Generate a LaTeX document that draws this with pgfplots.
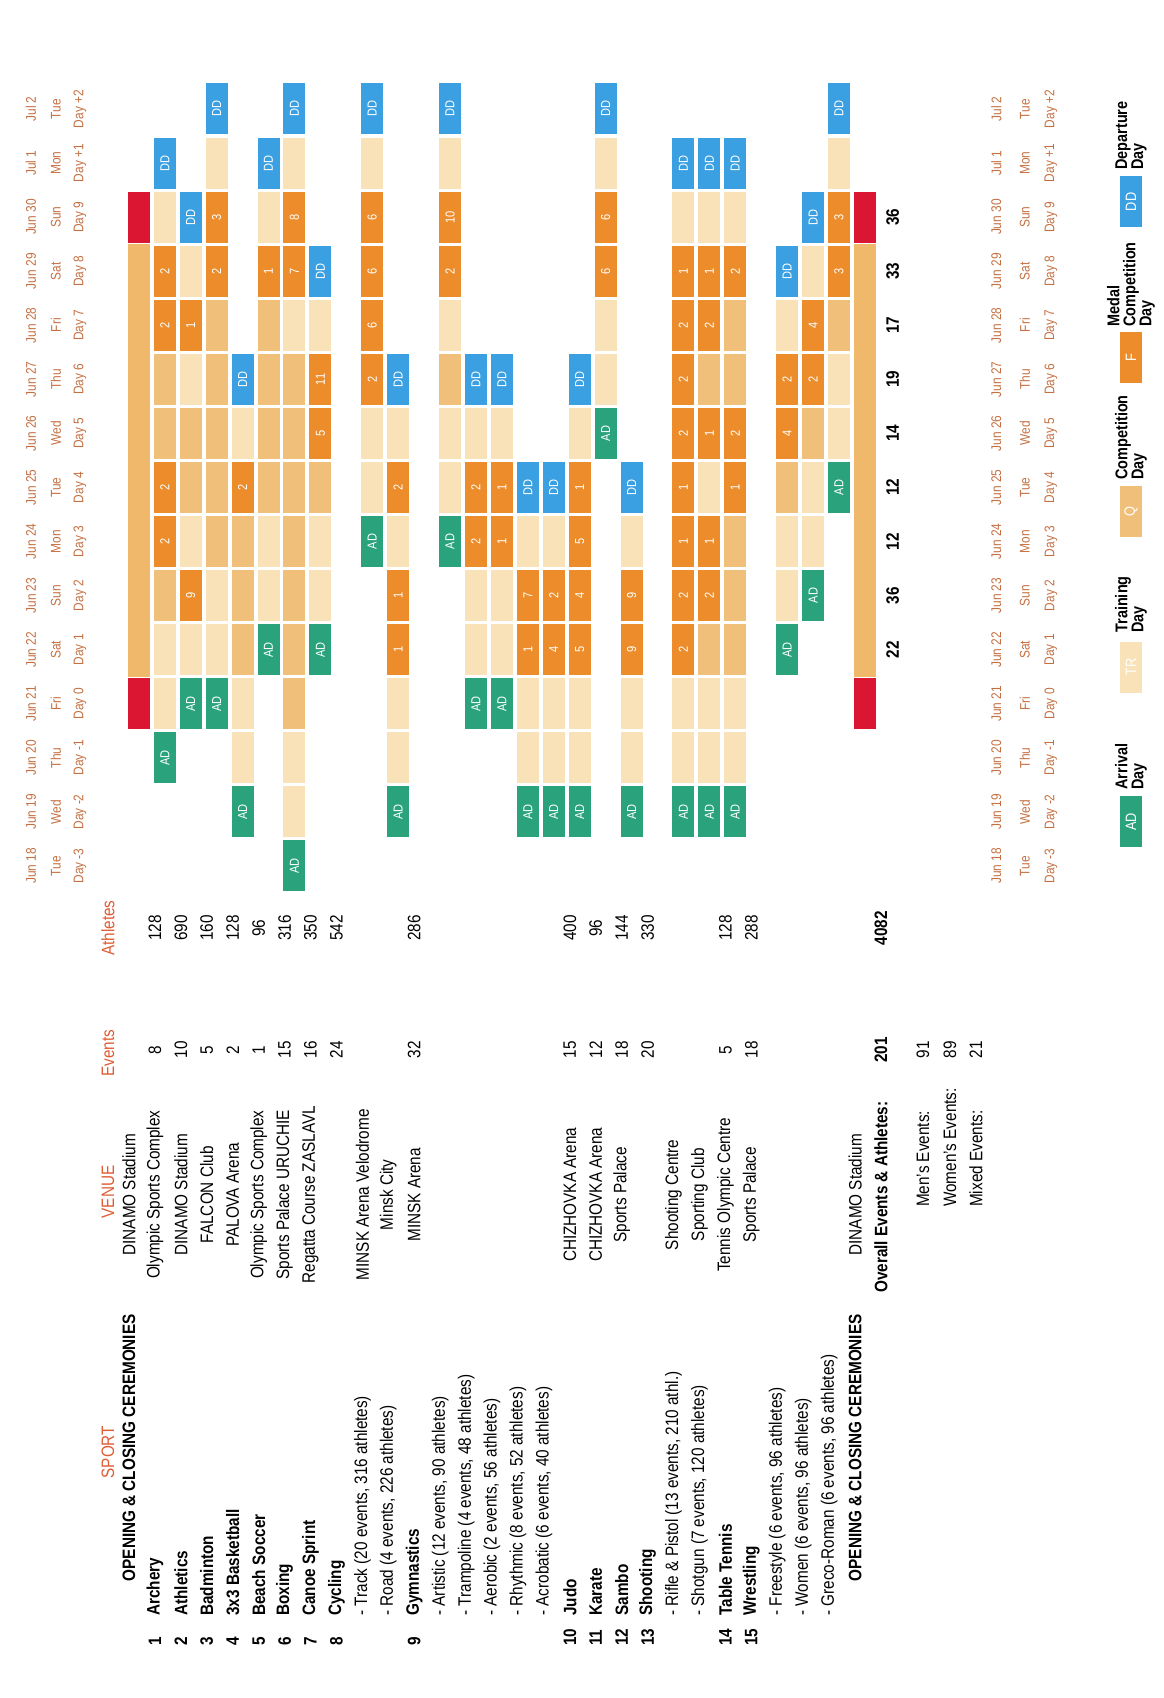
\documentclass[border=0pt]{standalone}
\usepackage{pgfplots}
\pgfplotsset{compat=1.18}
\usepackage{pgfplotstable}
\usepackage{fontspec}
\setmainfont{Liberation Sans}[FakeStretch=0.85]

\definecolor{cAD}{RGB}{42,163,124}
\definecolor{cDD}{RGB}{58,160,225}
\definecolor{cF}{RGB}{236,140,42}
\definecolor{cQ}{RGB}{240,192,122}
\definecolor{cTR}{RGB}{249,225,184}
\definecolor{cRed}{RGB}{218,22,50}
\definecolor{cBar}{RGB}{239,184,106}
\definecolor{cHead}{RGB}{222,92,52}
\definecolor{cDate}{RGB}{196,112,66}

\pgfdeclareplotmark{cell}{\pgfpathrectangle{\pgfqpoint{-5.5pt}{-12.75pt}}{\pgfqpoint{11pt}{25.5pt}}\pgfusepathqfill}
\pgfdeclareplotmark{barcell}{\pgfpathrectangle{\pgfqpoint{-5.5pt}{-13.6pt}}{\pgfqpoint{11pt}{27.2pt}}\pgfusepathqfill}

% rows: 0 ceremonies, 1 Archery ... 28 ceremonies ; days: 0 = Jun 18 ... 14 = Jul 2
\pgfplotstableread{
x y lab
1 2 AD
2 3 AD
3 3 AD
4 1 AD
5 4 AD
6 0 AD
7 4 AD
9 6 AD
10 1 AD
12 6 AD
13 3 AD
14 3 AD
15 1 AD
16 1 AD
17 1 AD
18 8 AD
19 1 AD
21 1 AD
22 1 AD
23 1 AD
25 4 AD
26 5 AD
27 7 AD
}\tabAD

\pgfplotstableread{
x y lab
1 13 DD
2 12 DD
3 14 DD
4 9 DD
5 13 DD
6 14 DD
7 11 DD
9 14 DD
10 9 DD
12 14 DD
13 9 DD
14 9 DD
15 7 DD
16 7 DD
17 9 DD
18 14 DD
19 7 DD
21 13 DD
22 13 DD
23 13 DD
25 11 DD
26 12 DD
27 14 DD
}\tabDD

\pgfplotstableread{
x y lab
1 6 2
1 7 2
1 10 2
1 11 2
2 5 9
2 10 1
3 11 2
3 12 3
4 7 2
5 11 1
6 11 7
6 12 8
7 8 5
7 9 11
9 9 2
9 10 6
9 11 6
9 12 6
10 4 1
10 5 1
10 7 2
12 11 2
12 12 10
13 6 2
13 7 2
14 6 1
14 7 1
15 4 1
15 5 7
16 4 4
16 5 2
17 4 5
17 5 4
17 6 5
17 7 1
18 11 6
18 12 6
19 4 9
19 5 9
21 4 2
21 5 2
21 6 1
21 7 1
21 8 2
21 9 2
21 10 2
21 11 1
22 5 2
22 6 1
22 8 1
22 10 2
22 11 1
23 7 1
23 8 2
23 11 2
25 8 4
25 9 2
26 9 2
26 10 4
27 11 3
27 12 3
}\tabF

\pgfplotstableread{
x y
1 5
1 8
1 9
2 7
2 8
3 6
3 7
3 8
3 9
3 10
4 4
4 5
4 6
5 7
5 8
5 9
5 10
6 3
6 4
6 5
6 6
6 7
6 8
6 9
7 7
12 9
22 4
22 9
23 4
23 5
23 6
23 9
23 10
25 7
26 8
27 10
}\tabQ

\pgfplotstableread{
x y
1 3
1 4
1 12
2 4
2 6
2 9
2 11
3 4
3 5
3 13
4 2
4 3
4 8
5 5
5 6
5 12
6 1
6 2
6 10
6 13
7 5
7 6
7 10
9 7
9 8
9 13
10 2
10 3
10 6
10 8
12 7
12 8
12 10
12 13
13 4
13 5
13 8
14 4
14 5
14 8
15 2
15 3
15 6
16 2
16 3
16 6
17 2
17 3
17 8
18 9
18 10
18 13
19 2
19 3
19 6
21 2
21 3
21 12
22 2
22 3
22 7
22 12
23 2
23 3
23 12
25 5
25 6
25 10
26 6
26 7
26 11
27 8
27 9
27 13
}\tabTR

\pgfplotstableread{
x y
0 3
0 12
28 3
28 12
}\tabRed

\pgfplotstableread{
x y
0 4
0 5
0 6
0 7
0 8
0 9
0 10
0 11
28 4
28 5
28 6
28 7
28 8
28 9
28 10
28 11
}\tabBar

\pgfplotstableread{
y lab
4 22
5 36
6 12
7 12
8 14
9 19
10 17
11 33
12 36
}\tabTot

\pgfplotstableread{
x lab
1 8
2 10
3 5
4 2
5 1
6 15
7 16
8 24
11 32
17 15
18 12
19 18
20 20
23 5
24 18
30.62 91
31.66 89
32.66 21
}\tabEv

\pgfplotstableread{
x lab
1 128
2 690
3 160
4 128
5 96
6 316
7 350
8 542
11 286
17 400
18 96
19 144
20 330
23 128
24 288
}\tabAth

\pgfplotstableread[col sep=comma]{
d,date,wd,dy
0,Jun 18,Tue,Day -3
1,Jun 19,Wed,Day -2
2,Jun 20,Thu,Day -1
3,Jun 21,Fri,Day 0
4,Jun 22,Sat,Day 1
5,Jun 23,Sun,Day 2
6,Jun 24,Mon,Day 3
7,Jun 25,Tue,Day 4
8,Jun 26,Wed,Day 5
9,Jun 27,Thu,Day 6
10,Jun 28,Fri,Day 7
11,Jun 29,Sat,Day 8
12,Jun 30,Sun,Day 9
13,Jul 1,Mon,Day +1
14,Jul 2,Tue,Day +2
}\tabDates

\pgfplotsset{
  cellplot/.style={only marks, mark=cell, color=#1, mark options={fill=#1, draw=none}},
  lbl/.style={nodes near coords, point meta=explicit symbolic,
    nodes near coords align={center},
    every node near coord/.append style={rotate=90, text=#1, inner sep=0pt,
      font=\fontsize{6.5}{7}\selectfont}},
  lgl/.style={nodes near coords, point meta=explicit symbolic,
    nodes near coords align={center},
    every node near coord/.append style={rotate=90, text=#1, inner sep=0pt,
      font=\fontsize{7.5}{8}\selectfont}},
  txtplot/.style={draw=none, mark=none, nodes near coords, point meta=explicit symbolic,
    nodes near coords align={center},
    every node near coord/.append style={rotate=90, inner sep=0pt, #1}},
}

\tikzset{
  rt/.style={rotate=90, inner sep=0pt, font=\fontsize{9}{10}\selectfont},
  rtb/.style={rotate=90, inner sep=0pt, font=\bfseries\fontsize{9}{10}\selectfont},
  hd/.style={rotate=90, inner sep=0pt, font=\fontsize{9}{10}\selectfont, text=cHead},
  lg/.style={rotate=90, inner sep=0pt, anchor=west, align=left, font=\bfseries\fontsize{8.5}{8}\selectfont},
}

\begin{document}
\begin{tikzpicture}
\begin{axis}[
  x=12.965pt, y=27.035pt,
  xmin=-4.975, xmax=39.877, ymin=-15.387, ymax=16.016,
  hide axis, clip=false,
]
\path (rel axis cs:0,0) rectangle (rel axis cs:1,1);

% ---- schedule grid ----
\addplot[only marks, mark=barcell, color=cBar, mark options={fill=cBar, draw=none}]
  table[x expr=\thisrow{x}+0.38, y=y] {\tabBar};
\addplot[cellplot=cRed] table[x expr=\thisrow{x}+0.38, y=y] {\tabRed};
\addplot[cellplot=cTR] table[x expr=\thisrow{x}+0.38, y=y] {\tabTR};
\addplot[cellplot=cQ] table[x expr=\thisrow{x}+0.38, y=y] {\tabQ};
\addplot[cellplot=cF, lbl=white] table[x expr=\thisrow{x}+0.38, y=y, meta=lab] {\tabF};
\addplot[cellplot=cAD, lbl=white] table[x expr=\thisrow{x}+0.38, y=y, meta=lab] {\tabAD};
\addplot[cellplot=cDD, lbl=white] table[x expr=\thisrow{x}+0.38, y=y, meta=lab] {\tabDD};

% ---- daily medal totals ----
\addplot[txtplot={font=\bfseries\fontsize{9}{10}\selectfont}]
  table[x expr=29.45, y=y, meta=lab] {\tabTot};

% ---- date headers (top and bottom) ----
\addplot[txtplot={text=cDate, font=\fontsize{7}{8}\selectfont}] table[x expr=-3.78, y=d, meta=date] {\tabDates};
\addplot[txtplot={text=cDate, font=\fontsize{7}{8}\selectfont}] table[x expr=-2.82, y=d, meta=wd] {\tabDates};
\addplot[txtplot={text=cDate, font=\fontsize{7}{8}\selectfont}] table[x expr=-1.89, y=d, meta=dy] {\tabDates};
\addplot[txtplot={text=cDate, font=\fontsize{7}{8}\selectfont}] table[x expr=33.45, y=d, meta=date] {\tabDates};
\addplot[txtplot={text=cDate, font=\fontsize{7}{8}\selectfont}] table[x expr=34.55, y=d, meta=wd] {\tabDates};
\addplot[txtplot={text=cDate, font=\fontsize{7}{8}\selectfont}] table[x expr=35.55, y=d, meta=dy] {\tabDates};

% ---- events / athletes columns ----
\addplot[txtplot={font=\fontsize{9}{10}\selectfont}] table[x=x, y expr=-3.40, meta=lab] {\tabEv};
\addplot[txtplot={font=\fontsize{9}{10}\selectfont}] table[x=x, y expr=-1.15, meta=lab] {\tabAth};

% ---- column headers ----
\node[hd] at (axis cs:-0.81,-10.84) {SPORT};
\node[hd] at (axis cs:-0.81,-6.03) {VENUE};
\node[hd] at (axis cs:-0.81,-3.46) {Events};
\node[hd] at (axis cs:-0.81,-1.15) {Athletes};

% ---- sport numbers ----
\node[rtb, anchor=west] at (axis cs:1,-14.43) {1};
\node[rtb, anchor=west] at (axis cs:2,-14.43) {2};
\node[rtb, anchor=west] at (axis cs:3,-14.43) {3};
\node[rtb, anchor=west] at (axis cs:4,-14.43) {4};
\node[rtb, anchor=west] at (axis cs:5,-14.43) {5};
\node[rtb, anchor=west] at (axis cs:6,-14.43) {6};
\node[rtb, anchor=west] at (axis cs:7,-14.43) {7};
\node[rtb, anchor=west] at (axis cs:8,-14.43) {8};
\node[rtb, anchor=west] at (axis cs:11,-14.43) {9};
\node[rtb, anchor=west] at (axis cs:17,-14.43) {10};
\node[rtb, anchor=west] at (axis cs:18,-14.43) {11};
\node[rtb, anchor=west] at (axis cs:19,-14.43) {12};
\node[rtb, anchor=west] at (axis cs:20,-14.43) {13};
\node[rtb, anchor=west] at (axis cs:23,-14.43) {14};
\node[rtb, anchor=west] at (axis cs:24,-14.43) {15};

% ---- sport names ----
\node[rtb] at (axis cs:0,-10.76) {OPENING \& CLOSING CEREMONIES};
\node[rtb, anchor=west] at (axis cs:1,-13.87) {Archery};
\node[rtb, anchor=west] at (axis cs:2,-13.87) {Athletics};
\node[rtb, anchor=west] at (axis cs:3,-13.87) {Badminton};
\node[rtb, anchor=west] at (axis cs:4,-13.87) {3x3 Basketball};
\node[rtb, anchor=west] at (axis cs:5,-13.87) {Beach Soccer};
\node[rtb, anchor=west] at (axis cs:6,-13.87) {Boxing};
\node[rtb, anchor=west] at (axis cs:7,-13.87) {Canoe Sprint};
\node[rtb, anchor=west] at (axis cs:8,-13.87) {Cycling};
\node[rt, anchor=west] at (axis cs:9,-13.87) {- Track (20 events, 316 athletes)};
\node[rt, anchor=west] at (axis cs:10,-13.87) {- Road (4 events, 226 athletes)};
\node[rtb, anchor=west] at (axis cs:11,-13.87) {Gymnastics};
\node[rt, anchor=west] at (axis cs:12,-13.87) {- Artistic (12 events, 90 athletes)};
\node[rt, anchor=west] at (axis cs:13,-13.87) {- Trampoline (4 events, 48 athletes)};
\node[rt, anchor=west] at (axis cs:14,-13.87) {- Aerobic (2 events, 56 athletes)};
\node[rt, anchor=west] at (axis cs:15,-13.87) {- Rhythmic (8 events, 52 athletes)};
\node[rt, anchor=west] at (axis cs:16,-13.87) {- Acrobatic (6 events, 40 athletes)};
\node[rtb, anchor=west] at (axis cs:17,-13.87) {Judo};
\node[rtb, anchor=west] at (axis cs:18,-13.87) {Karate};
\node[rtb, anchor=west] at (axis cs:19,-13.87) {Sambo};
\node[rtb, anchor=west] at (axis cs:20,-13.87) {Shooting};
\node[rt, anchor=west] at (axis cs:21,-13.87) {- Rifle \& Pistol (13 events, 210 athl.)};
\node[rt, anchor=west] at (axis cs:22,-13.87) {- Shotgun (7 events, 120 athletes)};
\node[rtb, anchor=west] at (axis cs:23,-13.87) {Table Tennis};
\node[rtb, anchor=west] at (axis cs:24,-13.87) {Wrestling};
\node[rt, anchor=west] at (axis cs:25,-13.87) {- Freestyle (6 events, 96 athletes)};
\node[rt, anchor=west] at (axis cs:26,-13.87) {- Women (6 events, 96 athletes)};
\node[rt, anchor=west] at (axis cs:27,-13.87) {- Greco-Roman (6 events, 96 athletes)};
\node[rtb] at (axis cs:28,-10.76) {OPENING \& CLOSING CEREMONIES};

% ---- venues ----
\node[rt] at (axis cs:0,-6.08) {DINAMO Stadium};
\node[rt] at (axis cs:1,-6.08) {Olympic Sports Complex};
\node[rt] at (axis cs:2,-6.08) {DINAMO Stadium};
\node[rt] at (axis cs:3,-6.08) {FALCON Club};
\node[rt] at (axis cs:4,-6.08) {PALOVA Arena};
\node[rt] at (axis cs:5,-6.08) {Olympic Sports Complex};
\node[rt] at (axis cs:6,-6.08) {Sports Palace URUCHIE};
\node[rt] at (axis cs:7,-6.08) {Regatta Course ZASLAVL};
\node[rt] at (axis cs:9,-6.08) {MINSK Arena Velodrome};
\node[rt] at (axis cs:10,-6.08) {Minsk City};
\node[rt] at (axis cs:11,-6.08) {MINSK Arena};
\node[rt] at (axis cs:17,-6.08) {CHIZHOVKA Arena};
\node[rt] at (axis cs:18,-6.08) {CHIZHOVKA Arena};
\node[rt] at (axis cs:19,-6.08) {Sports Palace};
\node[rt] at (axis cs:21,-6.08) {Shooting Centre};
\node[rt] at (axis cs:22,-6.08) {Sporting Club};
\node[rt] at (axis cs:23,-6.08) {Tennis Olympic Centre};
\node[rt] at (axis cs:24,-6.08) {Sports Palace};
\node[rt] at (axis cs:28,-6.08) {DINAMO Stadium};

% ---- totals ----
\node[rtb, anchor=west] at (axis cs:29,-7.90) {Overall Events \& Athletes:};
\node[rtb] at (axis cs:29,-3.40) {201};
\node[rtb] at (axis cs:29,-1.15) {4082};
\node[rt, anchor=west] at (axis cs:30.62,-6.31) {Men's Events:};
\node[rt, anchor=west] at (axis cs:31.66,-6.31) {Women's Events:};
\node[rt, anchor=west] at (axis cs:32.66,-6.31) {Mixed Events:};

% ---- legend ----
\addplot[cellplot=cAD, lgl=white] coordinates {(38.64,0.814) [AD]};
\addplot[cellplot=cTR, lgl=white] coordinates {(38.64,3.68) [TR]};
\addplot[cellplot=cQ, lgl=white] coordinates {(38.64,6.55) [Q]};
\addplot[cellplot=cF, lgl=white] coordinates {(38.64,9.41) [F]};
\addplot[cellplot=cDD, lgl=white] coordinates {(38.64,12.28) [DD]};
\node[lg] at (axis cs:38.64,1.406) {Arrival\\Day};
\node[lg] at (axis cs:38.64,4.31) {Training\\Day};
\node[lg] at (axis cs:38.64,7.14) {Competition\\Day};
\node[lg] at (axis cs:38.64,9.97) {Medal\\Competition\\Day};
\node[lg] at (axis cs:38.64,12.87) {Departure\\Day};
\end{axis}
\end{tikzpicture}
\end{document}
